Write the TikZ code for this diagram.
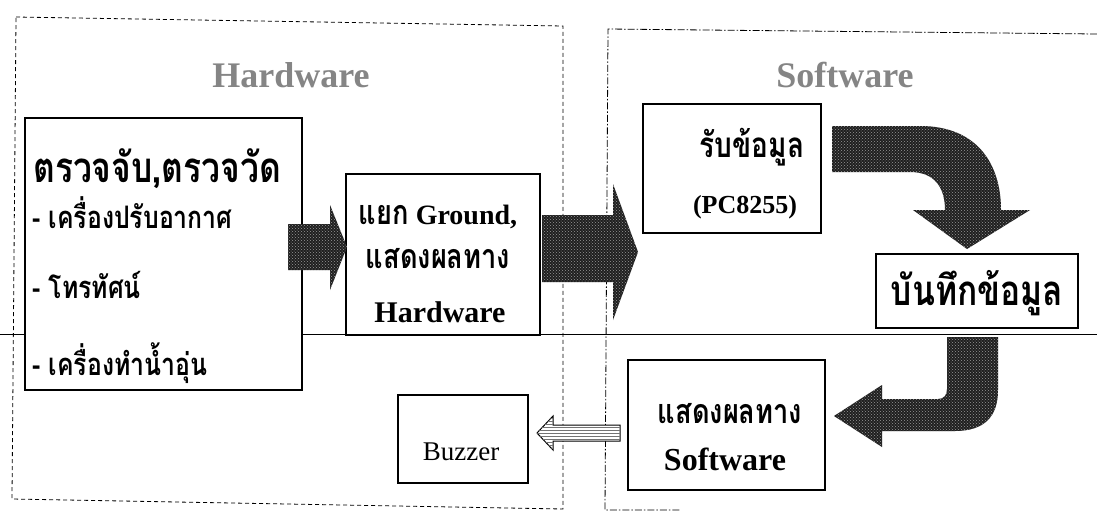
\documentclass[tikz,border=0pt]{standalone}
\usepackage{fontspec}
\setmainfont{Liberation Serif}
\newfontfamily\thai[Script=Thai, FakeStretch=0.8]{Loma}
\usetikzlibrary{patterns}
\tikzset{
  box/.style={draw, line width=1.3pt, fill=white, inner sep=0pt},
  blk/.style={fill=black!88, postaction={pattern=crosshatch dots, pattern color=black!40}},
  hwline/.style={dash pattern=on 4pt off 3pt, line width=0.8pt},
  swline/.style={dash pattern=on 7pt off 2pt on 1.5pt off 2pt, line width=0.8pt},
  ttl/.style={inner sep=0pt, anchor=base, text=black!48, font=\fontsize{36}{40}\selectfont\bfseries},
  txt/.style={inner sep=0pt, anchor=base},
  txtl/.style={inner sep=0pt, anchor=base west},
}
\newcommand{\fs}[1]{\fontsize{#1}{#1}\selectfont}
\begin{document}
\begin{tikzpicture}[x=1pt,y=-1pt]
\useasboundingbox[fill=white] (0,0) rectangle (1097,515);
% group frames
\draw[hwline] (16,17) -- (563,26) -- (563,509) -- (12,499) -- cycle;
\draw[swline] (1097,34) -- (608,29) -- (605,510) -- (680,510);
% scan line
\draw[line width=0.6pt] (0,334) -- (1097,334);
% titles
\node[ttl] (thw) at (291,87) {Hardware};
\node[ttl] (tsw) at (845,87) {Software};
% boxes
\node[box, minimum width=277pt, minimum height=272pt] (sense) at (163.5,254) {};
\node[box, minimum width=194pt, minimum height=161pt] (ground) at (443,254.5) {};
\node[box, minimum width=178pt, minimum height=129pt] (recv) at (732,168.5) {};
\node[box, minimum width=202pt, minimum height=74pt] (save) at (977,291) {};
\node[box, minimum width=197pt, minimum height=130pt] (show) at (726.5,425) {};
\node[box, minimum width=130pt, minimum height=88pt] (buzz) at (463,439) {};
% texts
\node[txtl] (s1) at (33,182) {\thai\bfseries\fs{42}ตรวจจับ,ตรวจวัด};
\node[txtl] (s2) at (32,228) {\thai\bfseries\fs{31}- เครื่องปรับอากาศ};
\node[txtl] (s3) at (32,298) {\thai\bfseries\fs{31}- โทรทัศน์};
\node[txtl] (s4) at (32,375) {\thai\bfseries\fs{31}- เครื่องทำน้ำอุ่น};
\node[txt] (g1) at (438,224) {\bfseries\fs{28}{\thai\fs{34}แยก} Ground,};
\node[txt] (g2) at (438,268) {\thai\bfseries\fs{34}แสดงผลทาง};
\node[txt] (g3) at (440,322) {\bfseries\fs{30}Hardware};
\node[txt] (r1) at (752,157) {\thai\bfseries\fs{35}รับข้อมูล};
\node[txt] (r2) at (745,213) {\bfseries\fs{26}(PC8255)};
\node[txt] (v1) at (977,305) {\thai\bfseries\fs{42}บันทึกข้อมูล};
\node[txt] (w1) at (730,423) {\thai\bfseries\fs{34}แสดงผลทาง};
\node[txt] (w2) at (725,470) {\bfseries\fs{32}Software};
\node[txt] (bz) at (461,460) {\fs{27}Buzzer};
% block arrows
\path[blk] (288,224) -- (330,224) -- (330,205) -- (347,247) -- (330,290) -- (330,270) -- (288,270) -- cycle;
\path[blk] (542,215) -- (613,215) -- (613,184) -- (638,252) -- (613,320) -- (613,282) -- (542,282) -- cycle;
\path[blk] (832,126) -- (920,126) .. controls (978,126) and (1001,165) .. (1001,210) -- (1030,210) -- (967,249) -- (913,210) -- (945,210) .. controls (945,188) and (935,172) .. (910,172) -- (832,172) -- cycle;
\path[blk] (947,337) -- (998,337) -- (998,390) .. controls (998,416) and (985,431) .. (955,431) -- (882,431) -- (882,447) -- (834,416) -- (882,385) -- (882,399) -- (938,399) .. controls (944,399) and (947,395) .. (947,389) -- cycle;
\path[draw=black, line width=1pt, fill=white, postaction={pattern=horizontal lines, pattern color=black!55}] (620,425) -- (553,425) -- (553,416) -- (537,433) -- (553,450) -- (553,441) -- (620,441) -- cycle;
\end{tikzpicture}
\end{document}
